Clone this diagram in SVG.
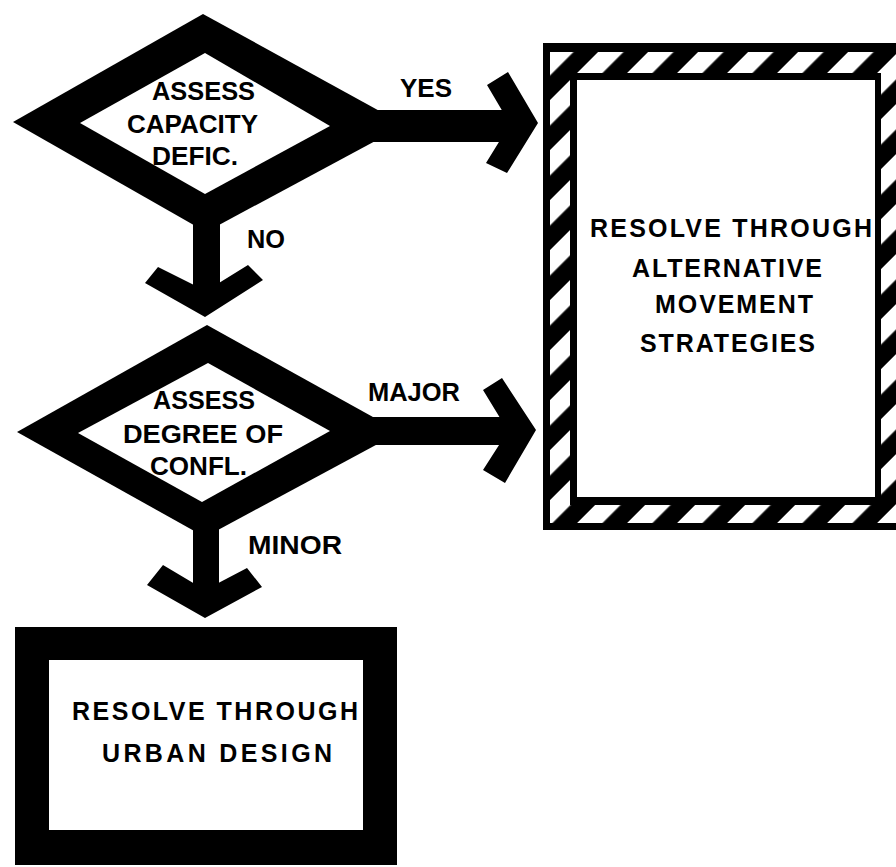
<svg xmlns="http://www.w3.org/2000/svg" width="896" height="867" viewBox="0 0 896 867">
<style>
text{font-family:"Liberation Sans",Arial,sans-serif;font-weight:bold;font-size:25px;fill:#000}
.blk{fill:#000}
.wht{fill:#fff}
</style>
<defs>
<pattern id="hatch" patternUnits="userSpaceOnUse" width="35.36" height="35.36" patternTransform="rotate(45)">
<rect x="0" y="0" width="35.36" height="35.36" fill="#000"/>
<rect x="0" y="0" width="18" height="35.36" fill="#fff"/>
</pattern>
</defs>
<rect width="896" height="867" fill="#fff"/>

<g id="connectors">
<g id="yes-arrow">
<rect class="blk" x="360" y="110" width="155" height="32"/>
<polygon class="blk" points="487,85 508,72 538,123 507,173 486,163 510,124"/>
<text x="400" y="97" textLength="52" lengthAdjust="spacingAndGlyphs">YES</text>
</g>
<g id="no-arrow">
<rect class="blk" x="193" y="215" width="27" height="80"/>
<polygon class="blk" points="158,267 206,291 248,265 263,280 205,317 145,283"/>
<text x="247" y="248" textLength="38" lengthAdjust="spacingAndGlyphs">NO</text>
</g>
<g id="major-arrow">
<rect class="blk" x="360" y="417" width="155" height="28"/>
<polygon class="blk" points="483,390 502,378 536,430 505,483 483,470 508,431"/>
<text x="368" y="401" textLength="92" lengthAdjust="spacingAndGlyphs">MAJOR</text>
</g>
<g id="minor-arrow">
<rect class="blk" x="193" y="525" width="26" height="70"/>
<polygon class="blk" points="163,565 205,590 247,568 262,587 205,618 147,585"/>
<text x="248" y="554" textLength="94" lengthAdjust="spacingAndGlyphs">MINOR</text>
</g>
</g>

<g id="decision-capacity">
<polygon class="blk" points="13,122 203,14 405,125 206,232"/>
<polygon class="wht" points="80,123 205,53 330,126 205,194"/>
<text x="152" y="100" textLength="103" lengthAdjust="spacingAndGlyphs">ASSESS</text>
<text x="127" y="133" textLength="131" lengthAdjust="spacingAndGlyphs">CAPACITY</text>
<text x="152" y="165" textLength="86" lengthAdjust="spacingAndGlyphs">DEFIC.</text>
</g>

<g id="decision-conflict">
<polygon class="blk" points="17,432 207,325 400,432 205,537"/>
<polygon class="wht" points="78,433 208,363 330,431 202,502"/>
<text x="153" y="409" textLength="102" lengthAdjust="spacingAndGlyphs">ASSESS</text>
<text x="123" y="443" textLength="160" lengthAdjust="spacingAndGlyphs">DEGREE  OF</text>
<text x="150" y="475" textLength="97" lengthAdjust="spacingAndGlyphs">CONFL.</text>
</g>

<g id="box-movement">
<rect class="blk" x="543" y="43" width="370" height="487"/>
<path fill="url(#hatch)" fill-rule="evenodd" d="M550,52 H913 V523 H550 Z M570,73 H881 V505 H570 Z"/>
<rect class="wht" x="577" y="80" width="298" height="417"/>
<text x="590" y="237" textLength="282" lengthAdjust="spacing">RESOLVE  THROUGH</text>
<text x="632" y="277" textLength="190" lengthAdjust="spacing">ALTERNATIVE</text>
<text x="655" y="313" textLength="158" lengthAdjust="spacing">MOVEMENT</text>
<text x="640" y="352" textLength="175" lengthAdjust="spacing">STRATEGIES</text>
</g>

<g id="box-urban">
<rect class="blk" x="15" y="627" width="382" height="238"/>
<rect class="wht" x="49" y="660" width="314" height="170"/>
<text x="72" y="720" textLength="286" lengthAdjust="spacing">RESOLVE  THROUGH</text>
<text x="102" y="762" textLength="230" lengthAdjust="spacing">URBAN  DESIGN</text>
</g>
</svg>
